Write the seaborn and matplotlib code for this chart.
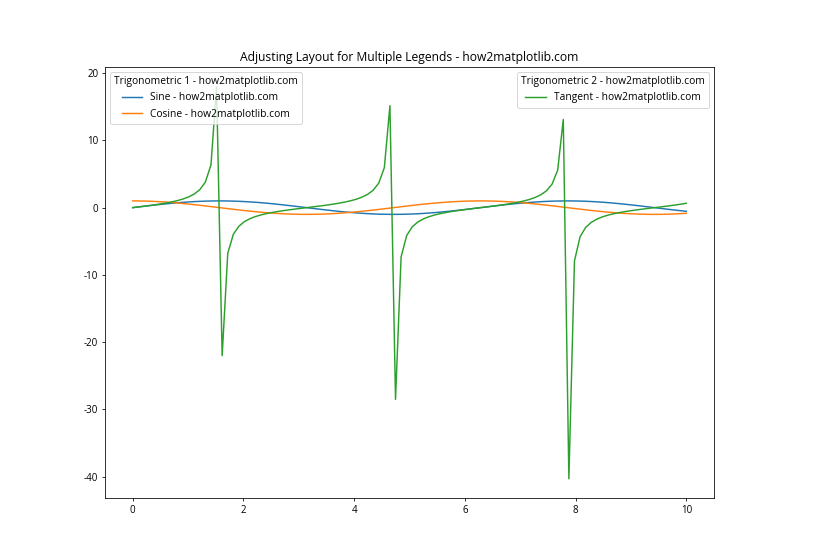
import matplotlib
matplotlib.use("Agg")
import matplotlib.pyplot as plt
import seaborn as sns
import pandas as pd

plt.rcParams['font.family'] = ['Open Sans', 'DejaVu Sans']
plt.rcParams['font.size'] = 10.5
plt.rcParams['axes.unicode_minus'] = False

x_vals = [0.0, 0.101, 0.202, 0.303, 0.404, 0.5051, 0.6061, 0.7071, 0.8081, 0.9091,
          1.0101, 1.1111, 1.2121, 1.3131, 1.4141, 1.5152, 1.6162, 1.7172, 1.8182, 1.9192,
          2.0202, 2.1212, 2.2222, 2.3232, 2.4242, 2.5253, 2.6263, 2.7273, 2.8283, 2.9293,
          3.0303, 3.1313, 3.2323, 3.3333, 3.4343, 3.5354, 3.6364, 3.7374, 3.8384, 3.9394,
          4.0404, 4.1414, 4.2424, 4.3434, 4.4444, 4.5455, 4.6465, 4.7475, 4.8485, 4.9495,
          5.0505, 5.1515, 5.2525, 5.3535, 5.4545, 5.5556, 5.6566, 5.7576, 5.8586, 5.9596,
          6.0606, 6.1616, 6.2626, 6.3636, 6.4646, 6.5657, 6.6667, 6.7677, 6.8687, 6.9697,
          7.0707, 7.1717, 7.2727, 7.3737, 7.4747, 7.5758, 7.6768, 7.7778, 7.8788, 7.9798,
          8.0808, 8.1818, 8.2828, 8.3838, 8.4848, 8.5859, 8.6869, 8.7879, 8.8889, 8.9899,
          9.0909, 9.1919, 9.2929, 9.3939, 9.4949, 9.596, 9.697, 9.798, 9.899, 10.0]

sine_vals = [0.0, 0.1008, 0.2006, 0.2984, 0.3931, 0.4838, 0.5696, 0.6496, 0.723, 0.789,
             0.8469, 0.8961, 0.9364, 0.9671, 0.9879, 0.9985, 0.999, 0.9893, 0.9696, 0.9399,
             0.9007, 0.8523, 0.7952, 0.7301, 0.6574, 0.578, 0.4927, 0.4025, 0.3082, 0.2107,
             0.1111, 0.0103, -0.0906, -0.1906, -0.2886, -0.3837, -0.4749, -0.5612, -0.6418, -0.7158,
             -0.7825, -0.8414, -0.8916, -0.9327, -0.9643, -0.9861, -0.9978, -0.9994, -0.9908, -0.972,
             -0.9434, -0.9051, -0.8577, -0.8015, -0.737, -0.665, -0.5864, -0.5017, -0.412, -0.318,
             -0.2208, -0.1213, -0.0206, 0.0803, 0.1804, 0.2787, 0.3742, 0.4658, 0.5526, 0.6339,
             0.7085, 0.776, 0.8358, 0.8868, 0.9289, 0.9616, 0.9843, 0.9971, 0.9997, 0.9921,
             0.9744, 0.9467, 0.9095, 0.8629, 0.8077, 0.7439, 0.6726, 0.5947, 0.5106, 0.4213,
             0.3277, 0.2308, 0.1315, 0.0309, -0.07, -0.1704, -0.2688, -0.3646, -0.4566, -0.544]

cosine_vals = [1.0, 0.9949, 0.9797, 0.9544, 0.9195, 0.8752, 0.8219, 0.7603, 0.6909, 0.6144,
               0.5317, 0.4438, 0.351, 0.2545, 0.1553, 0.0556, -0.0454, -0.1459, -0.2449, -0.3414,
               -0.4344, -0.523, -0.6063, -0.6833, -0.7535, -0.816, -0.8702, -0.9154, -0.9513, -0.9775,
               -0.9938, -0.9999, -0.9959, -0.9817, -0.9575, -0.9235, -0.88, -0.8277, -0.7669, -0.6983,
               -0.6227, -0.5404, -0.4529, -0.3607, -0.2648, -0.1661, -0.0659, 0.0351, 0.1357, 0.2349,
               0.3317, 0.4251, 0.5141, 0.5981, 0.6758, 0.7469, 0.81, 0.865, 0.9112, 0.9481,
               0.9753, 0.9926, 0.9998, 0.9968, 0.9836, 0.9604, 0.9274, 0.8849, 0.8335, 0.7734,
               0.7057, 0.6307, 0.549, 0.4621, 0.3702, 0.2746, 0.1763, 0.0761, -0.0248, -0.1255,
               -0.2249, -0.322, -0.4158, -0.5054, -0.5896, -0.6683, -0.74, -0.804, -0.8598, -0.9069,
               -0.9448, -0.973, -0.9913, -0.9995, -0.9975, -0.9854, -0.9632, -0.9312, -0.8897, -0.8391]

tangent_vals = [0.0, 0.1014, 0.2048, 0.3127, 0.4275, 0.5528, 0.693, 0.8544, 1.0465, 1.2842,
                1.593, 2.019, 2.668, 3.8, 6.36, 17.96, -22.0, -6.78, -3.96, -2.75,
                -2.07, -1.63, -1.31, -1.07, -0.872, -0.708, -0.566, -0.44, -0.324, -0.216,
                -0.112, -0.0103, 0.091, 0.194, 0.301, 0.415, 0.54, 0.678, 0.837, 1.025,
                1.257, 1.557, 1.969, 2.586, 3.641, 5.94, 15.15, -28.5, -7.3, -4.14,
                -2.84, -2.13, -1.67, -1.34, -1.09, -0.89, -0.724, -0.58, -0.452, -0.335,
                -0.226, -0.122, -0.0206, 0.0806, 0.183, 0.29, 0.403, 0.526, 0.663, 0.82,
                1.004, 1.23, 1.522, 1.919, 2.509, 3.5, 5.58, 13.1, -40.3, -7.91,
                -4.33, -2.94, -2.19, -1.71, -1.37, -1.11, -0.909, -0.74, -0.594, -0.465,
                -0.347, -0.237, -0.133, -0.0309, 0.0702, 0.173, 0.279, 0.392, 0.513, 0.648]

title_text = "Adjusting Layout for Multiple Legends - how2matplotlib.com"
legend1_title = "Trigonometric 1 - how2matplotlib.com"
legend2_title = "Trigonometric 2 - how2matplotlib.com"
labels = ["Sine - how2matplotlib.com", "Cosine - how2matplotlib.com", "Tangent - how2matplotlib.com"]

df = pd.DataFrame({"x": x_vals, "sin": sine_vals, "cos": cosine_vals, "tan": tangent_vals})

fig, ax = plt.subplots(figsize=(12, 8), dpi=70)
sns.lineplot(data=df, x="x", y="sin", ax=ax, color="C0", label=labels[0])
sns.lineplot(data=df, x="x", y="cos", ax=ax, color="C1", label=labels[1])
sns.lineplot(data=df, x="x", y="tan", ax=ax, color="C2", label=labels[2])
lines = ax.get_lines()
ax.set_xlabel("")
ax.set_ylabel("")
ax.set_title(title_text, fontsize=12.5)
ax.tick_params(labelsize=10)

leg1 = ax.legend(handles=lines[:2], labels=labels[:2], title=legend1_title, loc="upper left")
ax.add_artist(leg1)
ax.legend(handles=lines[2:3], labels=labels[2:3], title=legend2_title, loc="upper right")

plt.subplots_adjust(right=0.85)
fig.savefig("out.png", dpi=70)
